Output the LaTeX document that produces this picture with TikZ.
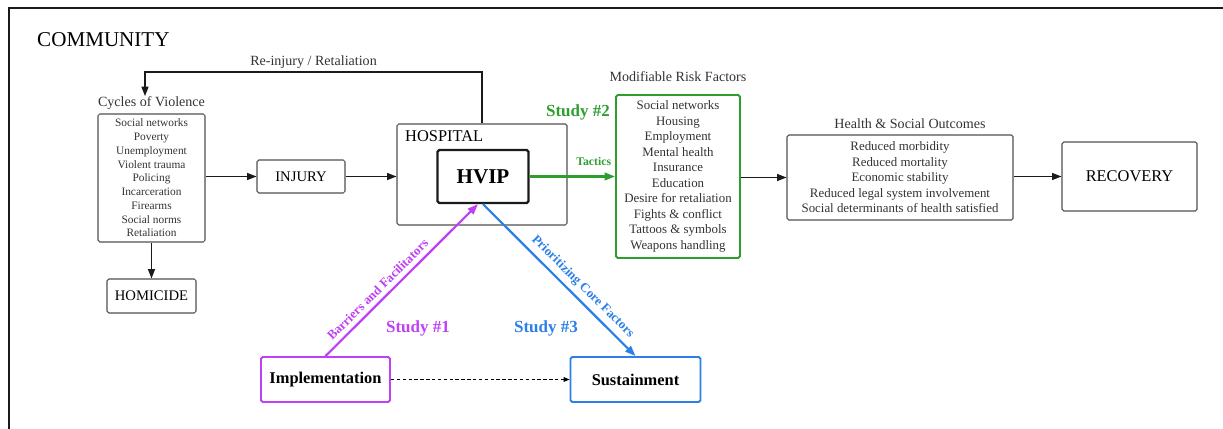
\documentclass[tikz,border=0pt]{standalone}
\usepackage{xcolor}
\usepackage{fontspec}
\setmainfont{Liberation Serif}
\usetikzlibrary{arrows.meta, positioning, calc}
\definecolor{framegray}{HTML}{1A1A1A}
\definecolor{boxgray}{HTML}{505050}
\definecolor{textgray}{HTML}{333333}
\definecolor{tacticgreen}{HTML}{2E9E2E}
\definecolor{barrierpurple}{HTML}{BF40F5}
\definecolor{coreblue}{HTML}{2B7FE8}
\tikzset{
  listbox/.style={
    rectangle, rounded corners=1.5pt,
    draw=boxgray, line width=0.9pt,
    align=center, inner sep=0pt, text=textgray,
  },
  plainbox/.style={
    rectangle, rounded corners=1.5pt,
    draw=boxgray, line width=0.9pt,
    align=center, inner sep=0pt, text=black,
    font=\fontsize{12.5}{14}\selectfont,
  },
  studybox/.style={
    rectangle, rounded corners=1.5pt,
    line width=1.6pt, inner sep=0pt,
    minimum height=1.35cm,
    font=\fontsize{14}{16}\selectfont\bfseries,
  },
  grouplabel/.style={inner sep=0pt, text=textgray, font=\fontsize{12}{14}\selectfont},
  studylabel/.style={inner sep=0pt, font=\fontsize{14.5}{16}\selectfont\bfseries},
  arrow/.style={-{Stealth[length=8pt, width=6pt, inset=0pt]}, line width=0.9pt, color=framegray},
  colarrow/.style={-{Stealth[length=9pt, width=6.5pt, inset=0pt]}, line width=1.9pt},
}

\begin{document}
\begin{tikzpicture}[x=0.03cm, y=-0.03cm]
  \useasboundingbox (0,0) rectangle (1223,429);
  \draw[line width=1.6pt, framegray] (1223,8) -- (9,8) -- (9,429);

  \node[anchor=west, inner sep=0pt, font=\fontsize{18}{20}\selectfont] (community) at (37,40) {COMMUNITY};

  % cycles of violence
  \node[listbox, minimum width=3.21cm, minimum height=3.84cm,
        font=\fontsize{9.7}{11.75}\selectfont] (cycles) at (151.5,178)
       {Social networks\\Poverty\\Unemployment\\Violent trauma\\Policing\\Incarceration\\Firearms\\Social norms\\Retaliation};
  \node[grouplabel, above=0.12cm of cycles] (cyclab) {Cycles of Violence};
  \node[plainbox, minimum width=2.67cm, minimum height=1.02cm] (homicide) at (151.5,296) {HOMICIDE};
  \node[plainbox, minimum width=2.64cm, minimum height=0.99cm] (injury) at (301,176.5) {INJURY};

  % hospital
  \node[plainbox, minimum width=5.1cm, minimum height=3.03cm] (hosp) at (482,174.5) {};
  \node[anchor=west, inner sep=0pt, font=\fontsize{14}{16}\selectfont] (hosplab) at (405,136) {HOSPITAL};
  \node[rectangle, rounded corners=1.5pt, draw=framegray, line width=2pt,
        minimum width=2.73cm, minimum height=1.59cm, inner sep=0pt,
        font=\fontsize{18}{20}\selectfont\bfseries] (hvip) at (483,176.5) {HVIP};

  % right side
  \node[listbox, draw=tacticgreen, line width=1.6pt, minimum width=3.72cm, minimum height=4.89cm,
        font=\fontsize{11}{13.2}\selectfont] (risk) at (678,176.5)
       {Social networks\\Housing\\Employment\\Mental health\\Insurance\\Education\\Desire for retaliation\\Fights \& conflict\\Tattoos \& symbols\\Weapons handling};
  \node[grouplabel, above=0.38cm of risk] (risklab) {Modifiable Risk Factors};
  \node[listbox, minimum width=6.78cm, minimum height=2.55cm,
        font=\fontsize{11}{13.2}\selectfont] (health) at (900,177.5)
       {Reduced morbidity\\Reduced mortality\\Economic stability\\Reduced legal system involvement\\Social determinants of health satisfied};
  \node[grouplabel, above=0.18cm of health, xshift=0.3cm] (healthlab) {Health \& Social Outcomes};
  \node[plainbox, minimum width=4.05cm, minimum height=2.07cm, font=\fontsize{14}{16}\selectfont] (recovery) at (1129.5,176.5) {RECOVERY};

  % studies
  \node[studybox, draw=barrierpurple, minimum width=3.87cm] (impl) at (325.5,379.5) {Implementation};
  \node[studybox, draw=coreblue, minimum width=3.9cm] (sust) at (635.5,379.5) {Sustainment};
  \node[studylabel, text=barrierpurple] (study1) at (418,328) {Study \#1};
  \node[studylabel, text=coreblue] (study3) at (546,328) {Study \#3};
  \node[studylabel, text=tacticgreen] (study2) at (578,112) {Study \#2};

  \coordinate (loop) at (145,72);

  \draw[arrow] (cycles.east |- injury.west) -- (injury.west);
  \draw[arrow] (injury.east) -- (hosp.west |- injury.east);
  \draw[arrow] (cycles.south -| homicide.north) -- (homicide.north);
  \draw[arrow] (hosp.north) |- node[grouplabel, above=0.08cm, pos=0.75]{Re-injury / Retaliation} (loop) -- (loop |- cyclab.north);
  \draw[colarrow, draw=tacticgreen, fill=tacticgreen] (hvip.east) -- node[pos=0.75, above=0.3cm, inner sep=0pt,
        text=tacticgreen, font=\fontsize{10}{12}\selectfont\bfseries]{Tactics} (risk.west |- hvip.east);
  \draw[arrow] (risk.east |- health.west) -- (health.west);
  \draw[arrow] (health.east |- recovery.west) -- (recovery.west);
  \draw[colarrow, color=barrierpurple] (impl.north) -- node[pos=0.39, sloped, above=0.14cm, inner sep=0pt,
        font=\fontsize{11}{13}\selectfont\bfseries]{Barriers and Facilitators} ($(hvip.south)+(-5,0)$);
  \draw[colarrow, color=coreblue] (hvip.south) -- node[pos=0.6, sloped, above=0.14cm, inner sep=0pt,
        font=\fontsize{11}{13}\selectfont\bfseries]{Prioritizing Core Factors} (sust.north);
  \draw[-{Stealth[length=5pt, width=4pt, inset=0pt]}, densely dashed, line width=0.7pt] (impl) -- (sust);

\end{tikzpicture}
\end{document}
